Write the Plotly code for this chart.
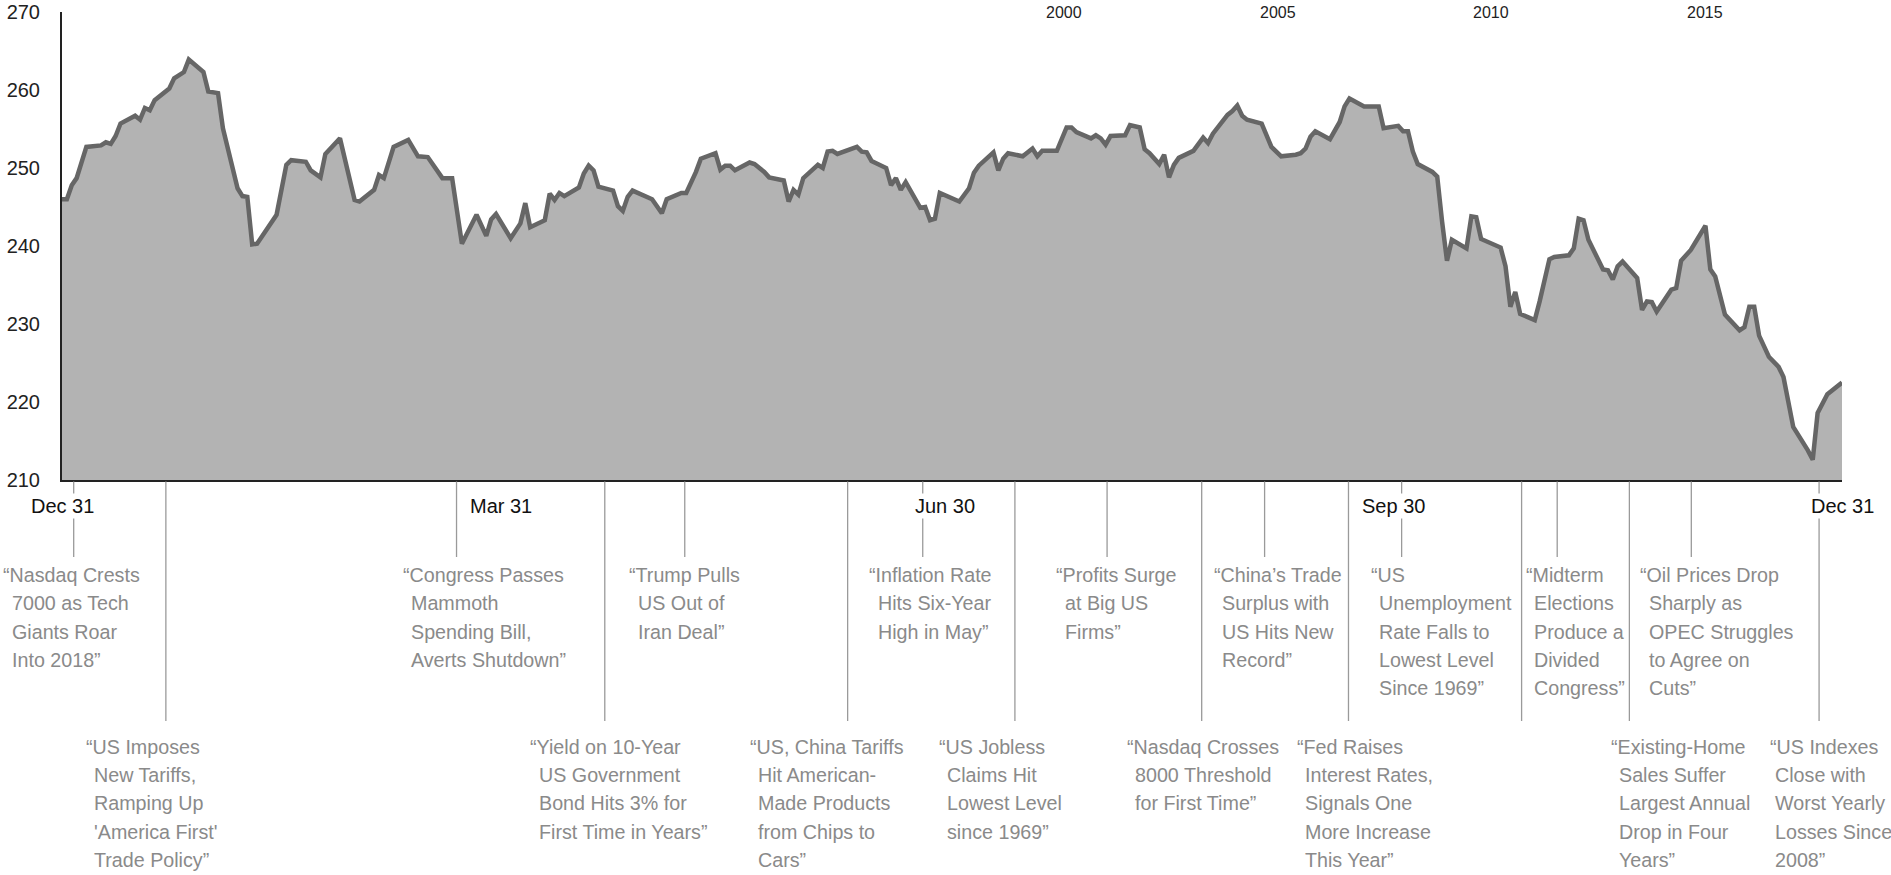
import pandas as pd
import plotly.graph_objects as go

START = pd.Timestamp("2017-12-31")

# ---- data (day offset from Dec 31 2017, index level) ----
day_offset = [
    0, 1, 2, 3, 5, 8, 9, 10, 11, 12, 15, 16, 17, 18, 19, 22, 23, 25, 26, 29,
    30, 32, 33, 36, 37, 38, 39, 40, 44, 46, 47, 50, 51, 53, 54, 57, 60, 61, 64, 65,
    66, 68, 71, 73, 75, 78, 80, 82, 85, 87, 88, 89, 92, 94, 95, 96, 99, 100, 101, 102,
    103, 106, 107, 108, 109, 110, 113, 114, 115, 116, 117, 121, 123, 124, 127, 128, 130, 131, 134, 135,
    136, 137, 138, 141, 142, 144, 145, 148, 149, 150, 151, 152, 155, 156, 157, 158, 159, 163, 164, 165,
    166, 169, 170, 171, 172, 173, 176, 177, 178, 179, 180, 183, 184, 186, 187, 188, 190, 191, 192, 193,
    194, 197, 199, 200, 201, 204, 206, 207, 208, 211, 212, 213, 214, 215, 218, 219, 221, 222, 223, 225,
    226, 227, 228, 229, 232, 234, 235, 236, 239, 240, 241, 242, 243, 246, 248, 250, 253, 254, 255, 256,
    257, 260, 262, 263, 264, 267, 268, 270, 271, 274, 275, 276, 277, 278, 281, 282, 283, 284, 285, 288,
    289, 290, 291, 295, 296, 297, 298, 299, 302, 303, 305, 306, 309, 310, 311, 312, 313, 316, 317, 318,
    319, 320, 323, 324, 325, 326, 327, 330, 331, 332, 334, 337, 338, 339, 341, 344, 345, 346, 347, 348,
    350, 352, 353, 355, 358, 359, 360, 361, 362, 365,
]
index_value = [
    246.0, 246.0, 247.8, 248.7, 252.7, 252.9, 253.3, 253.1, 254.1, 255.7, 256.7, 256.2, 257.7, 257.4, 258.7, 260.2, 261.5, 262.3, 263.9, 262.3,
    259.8, 259.6, 255.1, 247.4, 246.4, 246.3, 240.2, 240.3, 244.0, 250.4, 251.0, 250.8, 249.7, 248.8, 251.8, 253.8, 245.9, 245.7, 247.2, 249.1,
    248.7, 252.7, 253.6, 251.5, 251.4, 248.7, 248.7, 240.3, 244.0, 241.3, 243.4, 244.1, 241.0, 242.9, 245.5, 242.4, 243.3, 246.7, 245.9, 246.8,
    246.4, 247.5, 249.3, 250.3, 249.7, 247.6, 247.1, 245.1, 244.5, 246.3, 247.1, 246.0, 244.2, 246.0, 246.8, 246.8, 249.5, 251.2, 251.9, 249.8,
    250.3, 250.3, 249.7, 250.7, 250.5, 249.5, 248.8, 248.4, 245.7, 247.2, 246.6, 248.7, 250.4, 250.0, 252.1, 252.2, 251.8, 252.7, 252.1, 252.0,
    250.9, 250.0, 247.8, 248.7, 247.2, 248.2, 244.9, 245.0, 243.3, 243.5, 246.8, 245.9, 245.7, 247.4, 249.4, 250.3, 251.5, 252.0, 249.7, 251.2,
    251.9, 251.5, 252.5, 251.5, 252.2, 252.2, 255.2, 255.2, 254.6, 253.8, 254.2, 253.8, 253.0, 254.1, 254.2, 255.5, 255.2, 252.4, 251.9, 250.5,
    251.7, 248.8, 250.4, 251.3, 252.2, 253.9, 253.2, 254.4, 256.8, 257.3, 258.0, 256.7, 256.2, 255.7, 252.7, 251.5, 251.7, 251.9, 252.5, 254.0,
    254.7, 253.7, 255.9, 257.9, 258.9, 257.9, 257.9, 257.9, 255.1, 255.4, 254.7, 254.7, 252.1, 250.5, 249.5, 248.9, 243.1, 238.1, 240.8, 239.7,
    243.8, 243.7, 240.9, 239.8, 237.4, 232.2, 234.1, 231.3, 230.5, 232.9, 238.3, 238.6, 238.8, 239.7, 243.5, 243.3, 240.8, 237.0, 236.9, 235.7,
    237.4, 238.0, 235.9, 231.8, 232.9, 232.8, 231.6, 234.4, 234.6, 238.1, 239.5, 242.6, 237.0, 236.1, 231.2, 229.2, 229.6, 232.2, 232.2, 228.5,
    225.8, 224.5, 223.2, 216.8, 213.8, 212.6, 218.6, 219.7, 221.0, 222.5,
]

y_tick_values = [210, 220, 230, 240, 250, 260, 270]
date_label_days = [0, 90, 181, 273, 365]
date_label_text = ["Dec 31", "Mar 31", "Jun 30", "Sep 30", "Dec 31"]
year_label_values = [2000, 2005, 2010, 2015]
year_axis_range = [1976.57, 2018.2]

# ---- events ----
event_days = [2.4, 21.3, 80.9, 111.3, 127.7, 161.1, 176.5, 195.4, 214.3, 233.7,
              246.6, 263.8, 274.7, 299.3, 306.6, 321.4, 334.1, 360.3]
event_rows = ["top", "bottom"] * 9
event_texts = [
    ["\u201cNasdaq Crests", "7000 as Tech", "Giants Roar", "Into 2018\u201d"],
    ["\u201cUS Imposes", "New Tariffs,", "Ramping Up", "'America First'", "Trade Policy\u201d"],
    ["\u201cCongress Passes", "Mammoth", "Spending Bill,", "Averts Shutdown\u201d"],
    ["\u201cYield on 10-Year", "US Government", "Bond Hits 3% for", "First Time in Years\u201d"],
    ["\u201cTrump Pulls", "US Out of", "Iran Deal\u201d"],
    ["\u201cUS, China Tariffs", "Hit American-", "Made Products", "from Chips to", "Cars\u201d"],
    ["\u201cInflation Rate", "Hits Six-Year", "High in May\u201d"],
    ["\u201cUS Jobless", "Claims Hit", "Lowest Level", "since 1969\u201d"],
    ["\u201cProfits Surge", "at Big US", "Firms\u201d"],
    ["\u201cNasdaq Crosses", "8000 Threshold", "for First Time\u201d"],
    ["\u201cChina\u2019s Trade", "Surplus with", "US Hits New", "Record\u201d"],
    ["\u201cFed Raises", "Interest Rates,", "Signals One", "More Increase", "This Year\u201d"],
    ["\u201cUS", "Unemployment", "Rate Falls to", "Lowest Level", "Since 1969\u201d"],
    [],
    ["\u201cMidterm", "Elections", "Produce a", "Divided", "Congress\u201d"],
    ["\u201cExisting-Home", "Sales Suffer", "Largest Annual", "Drop in Four", "Years\u201d"],
    ["\u201cOil Prices Drop", "Sharply as", "OPEC Struggles", "to Agree on", "Cuts\u201d"],
    ["\u201cUS Indexes", "Close with", "Worst Yearly", "Losses Since", "2008\u201d"],
]

# ---- styling / layout constants (pixels) ----
W, H = 1891, 875
M_L, M_R, M_T, M_B = 62, 49, 12, 395
PLOT_TOP, PLOT_BOTTOM = M_T, H - M_B
PLOT_H = PLOT_BOTTOM - PLOT_TOP
FONT = "Liberation Sans, Arial, Helvetica, sans-serif"
TEXT_GRAY = "#8a8a8a"
LEADER_GRAY = "#9a9a9a"
event_text_dx = [-72.5, -82, -56, -76.5, -57.5, -100, -55.5, -78, -53, -77,
                 -53, -53.5, -33, 0, -33.5, -20.5, -53, -51]
event_indent = [8.5] * 17 + [5.0]
LINE_STEP = 28.33
ROW_FIRST_LINE = {"top": 575.0, "bottom": 746.7}
ROW_LEADER_END = {"top": 557.0, "bottom": 721.0}
LEADER_START = 481.5


def py(px):
    return (PLOT_BOTTOM - px) / PLOT_H


def day_to_date(d):
    return START + pd.Timedelta(days=d)


dates = [day_to_date(d) for d in day_offset]

fig = go.Figure()
fig.add_trace(go.Scatter(
    x=dates, y=index_value, mode="lines",
    line=dict(color="#666666", width=4.5),
    fill="tozeroy", fillcolor="#b3b3b3",
    showlegend=False, hoverinfo="x+y",
))
fig.add_trace(go.Scatter(
    x=year_label_values, y=[None] * len(year_label_values), xaxis="x2", yaxis="y",
    mode="markers", showlegend=False, hoverinfo="skip",
))

shapes = []
annotations = []

for d, row, texts, dx, ind in zip(event_days, event_rows, event_texts, event_text_dx, event_indent):
    xd = day_to_date(d)
    shapes.append(dict(
        type="line", xref="x", yref="paper", x0=xd, x1=xd,
        y0=py(LEADER_START), y1=py(ROW_LEADER_END[row]),
        line=dict(color=LEADER_GRAY, width=1.3),
    ))
    for i, t in enumerate(texts):
        annotations.append(dict(
            x=xd, xref="x", xanchor="left",
            xshift=dx + (ind if i > 0 else 0),
            y=py(ROW_FIRST_LINE[row] + i * LINE_STEP), yref="paper", yanchor="middle",
            text=t, showarrow=False,
            font=dict(family=FONT, size=19.7, color=TEXT_GRAY),
        ))

for d, t in zip(date_label_days, date_label_text):
    annotations.append(dict(
        x=day_to_date(d), xref="x", xanchor="center",
        y=py(506), yref="paper", yanchor="middle",
        text=t, showarrow=False, bgcolor="white", borderpad=1,
        font=dict(family=FONT, size=20, color="#111111"),
    ))

for yv in year_label_values:
    annotations.append(dict(
        x=yv, xref="x2", xanchor="center",
        y=py(12), yref="paper", yanchor="middle",
        text=str(yv), showarrow=False,
        font=dict(family=FONT, size=16, color="#222222"),
    ))

fig.update_layout(
    width=W, height=H,
    margin=dict(l=M_L, r=M_R, t=M_T, b=M_B, autoexpand=False),
    paper_bgcolor="white", plot_bgcolor="white",
    showlegend=False,
    xaxis=dict(
        type="date", range=[day_to_date(0), day_to_date(365)],
        showticklabels=False, ticks="", showgrid=False, zeroline=False,
        showline=True, linecolor="#222222", linewidth=2, automargin=False,
    ),
    xaxis2=dict(
        overlaying="x", side="top", range=year_axis_range,
        visible=False, automargin=False,
    ),
    yaxis=dict(
        range=[210, 270], tickvals=y_tick_values, ticks="",
        showgrid=False, zeroline=False, automargin=False,
        showline=True, linecolor="#222222", linewidth=2,
        tickfont=dict(family=FONT, size=20, color="#222222"),
        ticklabelstandoff=16,
    ),
    shapes=shapes,
    annotations=annotations,
    font=dict(family=FONT),
)

fig.write_html("out.html")
